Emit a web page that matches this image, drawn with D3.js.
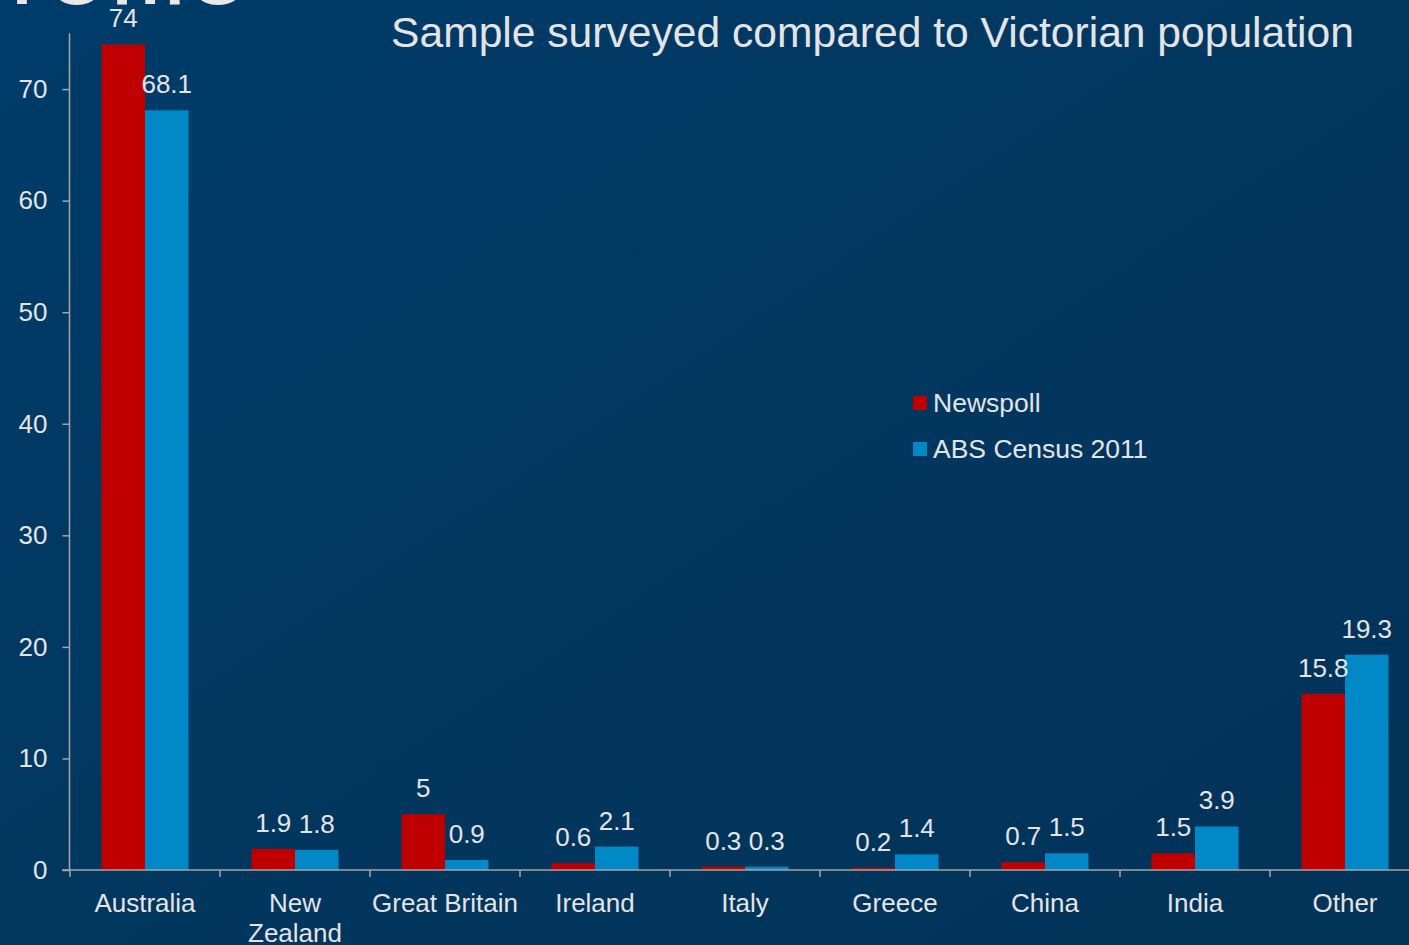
<!DOCTYPE html>
<html>
<head>
<meta charset="utf-8">
<script src="https://cdn.jsdelivr.net/npm/d3@7"></script>
<style>
  html, body { margin: 0; padding: 0; background: #023a66; }
  svg { display: block; }
  text { font-family: "Liberation Sans", Arial, sans-serif; }
</style>
</head>
<body>
<svg id="chart" width="1409" height="945"></svg>
<script>
// Country of birth: survey sample vs census population (%)
const categories = ["Australia", "New Zealand", "Great Britain", "Ireland", "Italy", "Greece", "China", "India", "Other"];
const categoryLines = [["Australia"], ["New", "Zealand"], ["Great Britain"], ["Ireland"], ["Italy"], ["Greece"], ["China"], ["India"], ["Other"]];
const seriesNames = ["Newspoll", "ABS Census 2011"];
const newspoll = [74, 1.9, 5, 0.6, 0.3, 0.2, 0.7, 1.5, 15.8];
const absCensus = [68.1, 1.8, 0.9, 2.1, 0.3, 1.4, 1.5, 3.9, 19.3];
const yTicks = [0, 10, 20, 30, 40, 50, 60, 70];
const colors = ["#c00000", "#0088c7"];

const svg = d3.select("#chart");
const W = 1409, H = 945;

// Background
const defs = svg.append("defs");
const bg = defs.append("linearGradient").attr("id", "bg")
  .attr("x1", "0").attr("y1", "0").attr("x2", "1").attr("y2", "1");
bg.append("stop").attr("offset", "0%").attr("stop-color", "#003c6a");
bg.append("stop").attr("offset", "50%").attr("stop-color", "#02375f");
bg.append("stop").attr("offset", "100%").attr("stop-color", "#023359");
svg.append("rect").attr("width", W).attr("height", H).attr("fill", "url(#bg)");

const textColor = "#e4e4e4";
const axisColor = "#a6a6a6";

// Clipped slide heading at the top-left edge
svg.append("text")
  .attr("x", 248).attr("y", 4)
  .attr("text-anchor", "end")
  .attr("font-size", 110)
  .attr("fill", "#e8e8e8")
  .text("profile");

// Scales
const y = d3.scaleLinear().domain([0, 75]).range([870, 33.3]);
const x0 = d3.scaleBand().domain(categories).range([70, 1420]).padding(0);
const groupW = 87;
const x1 = d3.scaleBand().domain(seriesNames).range([0, groupW]).padding(0);

const rows = categories.map((c, i) => ({ cat: c, values: [newspoll[i], absCensus[i]] }));

// Y axis
const yAxis = d3.axisLeft(y).tickValues(yTicks).tickSize(7).tickPadding(15).tickFormat(d3.format("d"));
const gy = svg.append("g").attr("transform", "translate(69.5,0)").call(yAxis);
gy.selectAll(".tick line").attr("stroke", axisColor).attr("stroke-width", 1.5);
gy.selectAll(".tick text").attr("fill", textColor).attr("font-size", 26)
  .attr("font-family", "'Liberation Sans', Arial, sans-serif");
gy.select(".domain").attr("stroke", axisColor).attr("stroke-width", 1.5).attr("d", `M0,${y(75)}V${y(0)}`);

// Bars
const groups = svg.append("g").selectAll("g").data(rows).join("g")
  .attr("transform", d => `translate(${x0(d.cat) + (x0.bandwidth() - groupW) / 2},0)`);

groups.selectAll("rect")
  .data(d => d.values.map((v, k) => ({ key: seriesNames[k], v, k })))
  .join("rect")
  .attr("x", d => x1(d.key))
  .attr("width", x1.bandwidth())
  .attr("y", d => y(d.v))
  .attr("height", d => y(0) - y(d.v))
  .attr("fill", d => colors[d.k]);

// Value labels
groups.selectAll("text.val")
  .data(d => d.values.map((v, k) => ({ key: seriesNames[k], v, k })))
  .join("text")
  .attr("class", "val")
  .attr("x", d => x1(d.key) + x1.bandwidth() / 2)
  .attr("y", d => y(d.v) - 17)
  .attr("text-anchor", "middle")
  .attr("font-size", 26)
  .attr("fill", textColor)
  .text(d => d.v);

// X axis
const gx = svg.append("g").attr("transform", `translate(0,${y(0)})`);
gx.append("line").attr("x1", 62).attr("x2", W).attr("y1", 0).attr("y2", 0)
  .attr("stroke", axisColor).attr("stroke-width", 1.5);
gx.selectAll("line.tick").data(categories).join("line")
  .attr("class", "tick")
  .attr("x1", d => x0(d)).attr("x2", d => x0(d))
  .attr("y1", 0).attr("y2", 7)
  .attr("stroke", axisColor).attr("stroke-width", 1.5);

const catText = gx.selectAll("text.cat").data(categories).join("text")
  .attr("class", "cat")
  .attr("x", d => x0(d) + x0.bandwidth() / 2)
  .attr("y", 42)
  .attr("text-anchor", "middle")
  .attr("font-size", 26)
  .attr("fill", textColor);
catText.each(function (d, i) {
  const t = d3.select(this);
  categoryLines[i].forEach((line, j) => {
    t.append("tspan").attr("x", x0(d) + x0.bandwidth() / 2).attr("dy", j === 0 ? 0 : 30).text(line);
  });
});

// Title
svg.append("text")
  .attr("x", 872.5).attr("y", 47)
  .attr("text-anchor", "middle")
  .attr("font-size", 42.6)
  .attr("fill", textColor)
  .text("Sample surveyed compared to Victorian population");

// Legend
const legend = svg.append("g").attr("transform", "translate(913,396)");
const li = legend.selectAll("g").data(seriesNames).join("g")
  .attr("transform", (d, i) => `translate(0,${i * 46})`);
li.append("rect").attr("width", 14).attr("height", 14).attr("fill", (d, i) => colors[i]);
li.append("text").attr("x", 20).attr("y", 16).attr("font-size", 26.5).attr("fill", textColor).text(d => d);
</script>
</body>
</html>
